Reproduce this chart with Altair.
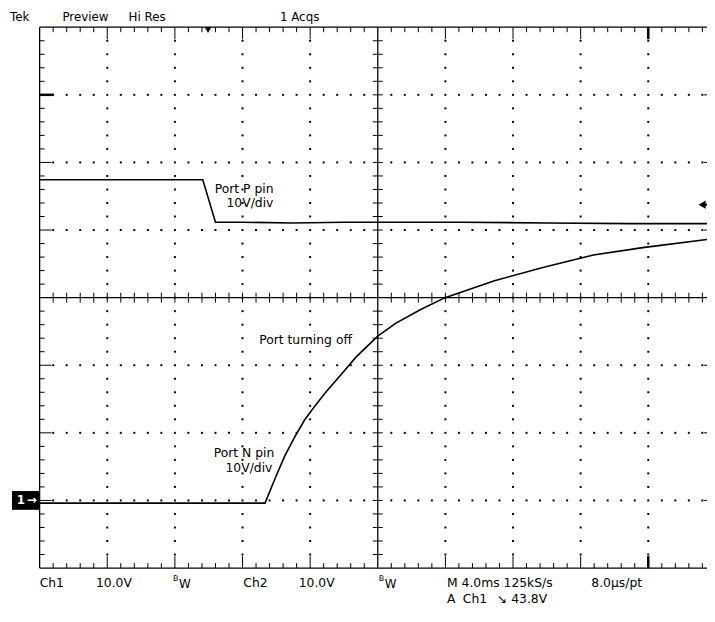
import altair as alt
import pandas as pd

# ---------------- data read from the screen ----------------
# time in ms (4 ms/div), voltage in V (10 V/div)
# Ch1 : Port N pin
n_time = [0.0, 13.33, 13.92, 14.50, 15.09, 15.67, 16.26, 16.96, 17.72, 18.71, 20.00,
          21.05, 22.51, 23.98, 26.90, 29.82, 32.75, 35.67, 39.47]
n_volt = [-0.4, -0.4, 3.2, 6.6, 9.4, 11.9, 13.9, 16.1, 18.3, 21.2, 24.3,
          26.2, 28.2, 30.0, 32.5, 34.5, 36.3, 37.4, 38.6]
# Ch2 : Port P pin
p_time = [0.0, 9.65, 10.4, 12.0, 15.0, 18.0, 20.0, 25.0, 30.0, 35.0, 39.5]
p_volt = [3.7, 3.7, -2.6, -2.6, -2.7, -2.6, -2.6, -2.6, -2.7, -2.8, -2.8]

MS_PER_DIV = 4.0
V_PER_DIV = 10.0
CH1_GND = -3.0     # divisions from screen centre
CH2_GND = 1.375
TRIG_POS = 2.49    # divisions from left

top_texts = ["Tek", "Preview", "Hi Res", "1 Acqs"]
bottom_texts = ["Ch1", "10.0V", "Ch2", "10.0V", "M 4.0ms 125kS/s", "8.0\u00b5s/pt"]
trig_texts = ["A", "Ch1", "\u2198", "43.8V"]

# ---------------- geometry ----------------
PXX = 68.4
PXY = 68.375
W = 675
H = 547
XMAX = W / PXX

xs = alt.Scale(domain=[0, XMAX], nice=False, zero=False)
ys = alt.Scale(domain=[-4, 4], nice=False, zero=False)
FONT = "DejaVu Sans"

n_df = pd.DataFrame({"x": [t / MS_PER_DIV for t in n_time],
                     "y": [v / V_PER_DIV + CH1_GND for v in n_volt]})
p_df = pd.DataFrame({"x": [t / MS_PER_DIV for t in p_time],
                     "y": [v / V_PER_DIV + CH2_GND for v in p_volt]})

# graticule rules
rules = []
def add(x, x2, y, y2, w=1.0):
    rules.append(dict(x=x, x2=x2, y=y, y2=y2, w=w))

add(0, 10, 4, 4, 1.3)
add(0, 10, -4, -4, 1.3)
add(0, 0, -4, 4, 1.3)
add(10, 10, -4, 4, 1.3)
add(5, 5, -4, 4, 1.3)
add(0, 10, 0, 0, 1.3)
for k in range(1, 50):
    x = k * 0.2
    if k == 25:
        continue
    L = 12 if k % 5 == 0 else 5
    add(x, x, 4, 4 - L / PXY)
    add(x, x, -4, -4 + L / PXY)
    add(x, x, -5 / PXY, 5 / PXY)
for k in range(1, 40):
    y = -4 + k * 0.2
    if k == 20:
        continue
    L = 12 if k % 5 == 0 else 5
    add(0, L / PXX, y, y)
    add(10 - L / PXX, 10, y, y)
    add(5 - 5 / PXX, 5 + 5 / PXX, y, y)
# heavier marks
add(9, 9, 4, 4 - 12 / PXY, 2.5)
add(9, 9, -4, -4 + 12 / PXY, 2.5)
add(0, 14 / PXX, 3, 3, 2.5)
rules_df = pd.DataFrame(rules)

dots = []
for gx in [1, 2, 3, 4, 6, 7, 8, 9]:
    for k in range(1, 40):
        dots.append(dict(x=gx, y=-4 + 0.2 * k))
for gy in [-3, -2, -1, 1, 2, 3]:
    for k in range(1, 50):
        if k % 5 == 0:
            continue
        dots.append(dict(x=0.2 * k, y=gy))
dots_df = pd.DataFrame(dots)

X = alt.X("x:Q", scale=xs, axis=None)
Y = alt.Y("y:Q", scale=ys, axis=None)

rule_layer = alt.Chart(rules_df).mark_rule(color="black").encode(
    x=X, x2="x2:Q", y=Y, y2="y2:Q",
    strokeWidth=alt.StrokeWidth("w:Q", scale=None, legend=None))

dot_layer = alt.Chart(dots_df).mark_square(color="black", size=4, opacity=1).encode(x=X, y=Y)

n_layer = alt.Chart(n_df).mark_line(color="black", strokeWidth=1.6).encode(x=X, y=Y)
p_layer = alt.Chart(p_df).mark_line(color="black", strokeWidth=1.6).encode(x=X, y=Y)

# markers
trig_df = pd.DataFrame({"x": [TRIG_POS], "y": [4]})
trig_layer = alt.Chart(trig_df).mark_point(shape="triangle-down", filled=True, color="black",
                                           size=45, yOffset=3, opacity=1).encode(x=X, y=Y)

ch1_box_df = pd.DataFrame({"x": [-28 / PXX], "x2": [0], "y": [CH1_GND - 9.5 / PXY], "y2": [CH1_GND + 9.5 / PXY]})
ch1_box = alt.Chart(ch1_box_df).mark_rect(color="black").encode(x=X, x2="x2:Q", y=Y, y2="y2:Q")
ch1_txt_df = pd.DataFrame({"x": [-19 / PXX, -8 / PXX], "y": [CH1_GND, CH1_GND], "t": ["1", "\u2192"]})
ch1_txt = alt.Chart(ch1_txt_df).mark_text(color="white", font=FONT, fontSize=12, fontWeight="bold",
                                          baseline="middle").encode(x=X, y=Y, text="t:N")

ch2_df = pd.DataFrame({"x": [(710 - 40) / PXX], "y": [CH2_GND]})
ch2_tri = alt.Chart(ch2_df).mark_point(shape="triangle-left", filled=True, color="black",
                                       size=70, opacity=1).encode(x=X, y=Y)
ch2_tail_df = pd.DataFrame({"x": [(710 - 40) / PXX], "x2": [XMAX], "y": [CH2_GND]})
ch2_tail = alt.Chart(ch2_tail_df).mark_rule(color="black", strokeWidth=2).encode(x=X, x2="x2:Q", y=Y)

# text labels (pixel positions relative to plot origin)
TY = -10
BY1 = 562
BY2 = 578
labels = pd.DataFrame([
    dict(t=top_texts[0], px=-30, py=TY, fs=12),
    dict(t=top_texts[1], px=23, py=TY, fs=12),
    dict(t=top_texts[2], px=90, py=TY, fs=12),
    dict(t=top_texts[3], px=243, py=TY, fs=12),
    dict(t=bottom_texts[0], px=0, py=BY1, fs=12.5),
    dict(t=bottom_texts[1], px=57, py=BY1, fs=12.5),
    dict(t="B", px=135, py=BY1 - 4, fs=8),
    dict(t="W", px=141, py=BY1 + 1, fs=12),
    dict(t=bottom_texts[2], px=206, py=BY1, fs=12.5),
    dict(t=bottom_texts[3], px=262, py=BY1, fs=12.5),
    dict(t="B", px=343, py=BY1 - 4, fs=8),
    dict(t="W", px=349, py=BY1 + 1, fs=12),
    dict(t=bottom_texts[4], px=412, py=BY1, fs=12.5),
    dict(t=bottom_texts[5], px=558, py=BY1, fs=12.5),
    dict(t=trig_texts[0], px=412, py=BY2, fs=12.5),
    dict(t=trig_texts[1], px=428, py=BY2, fs=12.5),
    dict(t=trig_texts[2], px=462, py=BY2, fs=12.5),
    dict(t=trig_texts[3], px=477, py=BY2, fs=12.5),
    dict(t="Port P pin", px=177, py=164, fs=12.5),
    dict(t="10V/div", px=189, py=178, fs=12.5),
    dict(t="Port turning off", px=222, py=316, fs=12.5),
    dict(t="Port N pin", px=176, py=431, fs=12.5),
    dict(t="10V/div", px=188, py=446, fs=12.5),
])
label_layer = alt.Chart(labels).mark_text(color="black", font=FONT, align="left", baseline="middle").encode(
    x=alt.X("px:Q", scale=None, axis=None),
    y=alt.Y("py:Q", scale=None, axis=None),
    text="t:N",
    size=alt.Size("fs:Q", scale=None, legend=None))

chart = alt.layer(
    dot_layer, rule_layer, p_layer, n_layer, trig_layer,
    ch1_box, ch1_txt, ch2_tail, ch2_tri, label_layer
).properties(
    width=W, height=H,
    autosize=alt.AutoSizeParams(type="none"),
    padding={"left": 32, "top": 16, "right": 0, "bottom": 40},
    background="white",
).configure_view(stroke=None)

chart.save("out.html", embed_options={"renderer": "svg", "actions": False})
